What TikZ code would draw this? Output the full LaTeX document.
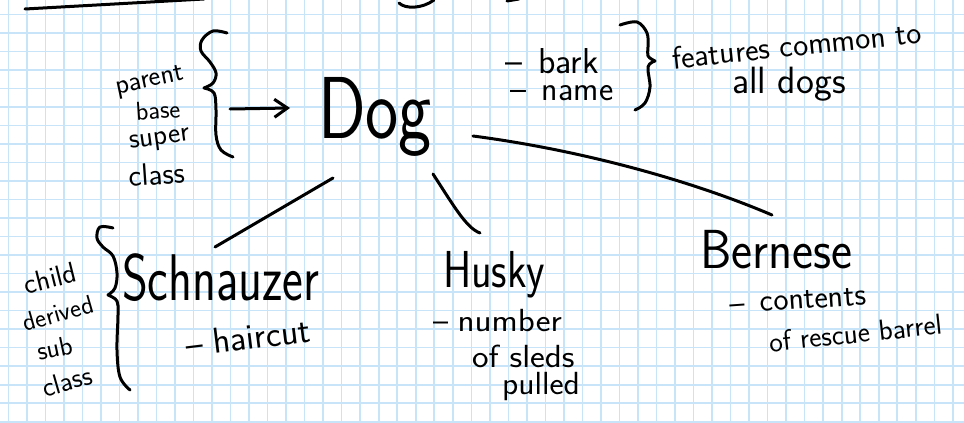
\documentclass[tikz,border=0pt]{standalone}
\usetikzlibrary{arrows.meta}
\definecolor{gridblue}{RGB}{200,228,248}
\newcommand{\hwsz}[1]{\fontsize{#1}{#1}\selectfont}
\tikzset{
  gridline/.style={draw=gridblue, line width=1.6pt},
  pen/.style={draw=black, line width=3pt, line cap=round, line join=round},
  hw/.style={font=\sffamily, text=black, inner sep=0pt, outer sep=0pt, anchor=base west},
  hwc/.style={font=\sffamily, text=black, inner sep=0pt, outer sep=0pt, anchor=center},
}
\begin{document}
\begin{tikzpicture}[x=1pt, y=-1pt]
\useasboundingbox (0,0) rectangle (964,423);
\fill[white] (0,0) rectangle (964,423);
% grid paper
\foreach \i in {0,...,51} \draw[gridline] ({8.3+18.52*\i},0) -- ({8.3+18.52*\i},423);
\foreach \j in {0,...,22} \draw[gridline] (0,{14.3+18.52*\j}) -- (964,{14.3+18.52*\j});

% cut-off title fragments at the top
\draw[pen] (25,9) -- (204,-1);
\draw[pen] (399,3) .. controls (405,9) and (422,9) .. (434,0);
\draw[pen] (507,1) -- (519,-1);

% main texts
\node[hw] (dog) at (318,138) {\hwsz{88}\scalebox{0.8}[1]{Dog}};
\node[hw] (schnauzer) at (122,300) {\hwsz{66}\scalebox{0.75}[1]{Schnauzer}};
\node[hw] (husky) at (443,287) {\hwsz{52}\scalebox{0.82}[1]{Husky}};
\node[hw] (bernese) at (700,268) {\hwsz{55}\scalebox{0.91}[1]{Bernese}};

% features
\node[hw] (bark) at (505,73) {\hwsz{36}--\hspace{0.45em}bark};
\node[hw] (name) at (510,100) {\hwsz{34}--\hspace{0.47em}name};
\node[hw, rotate=6] (features) at (673,69) {\hwsz{32}features common to};
\node[hw] (alldogs) at (732,93) {\hwsz{38}all dogs};

\node[hw, rotate=7] (haircut) at (187,357) {\hwsz{36}--\hspace{0.3em}haircut};
\node[hw] (number) at (433,331) {\hwsz{32}--\hspace{0.3em}\scalebox{1.1}[1]{number}};
\node[hw] (sleds) at (472,367) {\hwsz{32}\scalebox{1.1}[1]{of sleds}};
\node[hw] (pulled) at (502,394) {\hwsz{32}\scalebox{1.05}[1]{pulled}};
\node[hw, rotate=4] (contents) at (730,314) {\hwsz{32}--\hspace{0.5em}contents};
\node[hw, rotate=6] (barrel) at (770,352) {\hwsz{29}of rescue barrel};

% parent labels
\node[hwc, rotate=12] (parent) at (150,82) {\hwsz{28}parent};
\node[hwc, rotate=4] (base) at (158,110) {\hwsz{26}base};
\node[hwc, rotate=8] (super) at (160,141) {\hwsz{29}super};
\node[hwc, rotate=4] (pclass) at (157,174) {\hwsz{31}class};

% child labels
\node[hwc, rotate=14] (child) at (50,278) {\hwsz{29}child};
\node[hwc, rotate=16] (derived) at (58,313) {\hwsz{26}derived};
\node[hwc, rotate=12] (sub) at (55,348) {\hwsz{27}sub};
\node[hwc, rotate=16] (cclass) at (67,381) {\hwsz{28}class};

% braces
\draw[pen] plot[smooth, tension=0.6] coordinates {(227,33) (213,31) (202,40) (201,51) (210,62) (216,73) (213,83) (204,88)};
\draw[pen] plot[smooth, tension=0.6] coordinates {(204,88) (214,93) (216,110) (216,135) (221,150) (233,157)};
\draw[pen] plot[smooth, tension=0.6] coordinates {(620,25) (637,22) (647,33) (648,47) (648,56) (655,61)};
\draw[pen] plot[smooth, tension=0.6] coordinates {(655,61) (648,67) (650,87) (645,103) (635,110)};
\draw[pen] plot[smooth, tension=0.6] coordinates {(113,228) (100,227) (97,238) (103,247) (113,256) (117,273) (115,288) (108,295)};
\draw[pen] plot[smooth, tension=0.6] coordinates {(108,295) (117,301) (118,315) (117,350) (120,377) (130,390)};

% arrow from the parent brace to Dog
\coordinate (arrS) at (230,109);
\coordinate (arrE) at (290,108);
\draw[pen, -{Straight Barb[length=13pt, width=18pt, line width=3pt]}] (arrS) -- (arrE);

% connectors
\coordinate (dogL) at (333,178);
\coordinate (dogM) at (433,174);
\coordinate (dogR) at (473,136);
\coordinate (schT) at (215,247);
\coordinate (husT) at (480,233);
\coordinate (berT) at (772,215);
\draw[pen] (dogL) -- (schT);
\draw[pen] (dogM) .. controls (452,203) and (466,228) .. (husT);
\draw[pen] (dogR) .. controls (580,150) and (690,180) .. (berT);
\end{tikzpicture}
\end{document}
